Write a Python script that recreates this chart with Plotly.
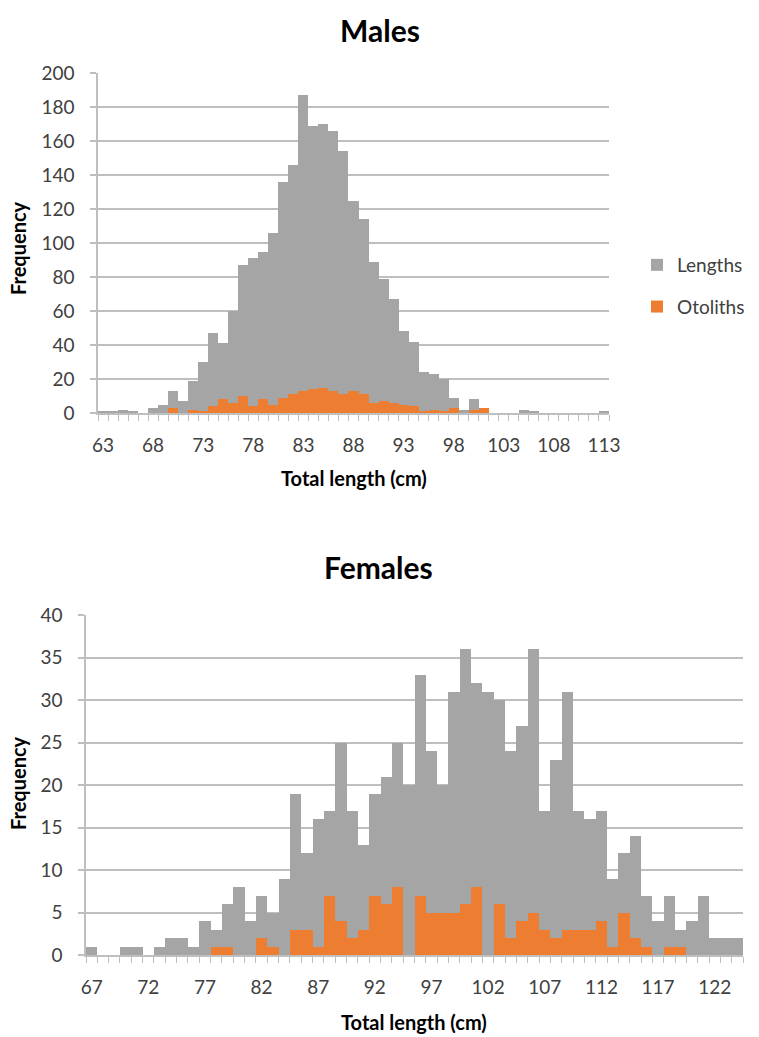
import plotly.graph_objects as go

# ---------------- data ----------------
male_lengths_cm = list(range(63, 114))
male_lengths = [1, 1, 2, 1, 0, 3, 5, 13, 7, 19, 30, 47, 41, 60, 87, 91, 95, 106, 136, 146,
                187, 169, 170, 166, 154, 125, 114, 89, 79, 67, 48, 42, 24, 23, 20, 9, 2, 8, 3, 0,
                0, 0, 2, 1, 0, 0, 0, 0, 0, 0, 1]
male_otoliths = [0, 0, 0, 0, 0, 0, 0, 3, 0, 2, 1, 4, 8, 6, 10, 4, 8, 5, 9, 11,
                 13, 14, 15, 13, 11, 13, 11, 6, 7, 6, 5, 4, 1, 2, 1, 3, 0, 2, 3, 0,
                 0, 0, 0, 0, 0, 0, 0, 0, 0, 0, 0]

female_lengths_cm = list(range(67, 125))
female_lengths = [1, 0, 0, 1, 1, 0, 1, 2, 2, 1, 4, 3, 6, 8, 4, 7, 5, 9, 19, 12,
                  16, 17, 25, 17, 13, 19, 21, 25, 20, 33, 24, 20, 31, 36, 32, 31, 30, 24, 27, 36,
                  17, 23, 31, 17, 16, 17, 9, 12, 14, 7, 4, 7, 3, 4, 7, 2, 2, 2]
female_otoliths = [0, 0, 0, 0, 0, 0, 0, 0, 0, 0, 0, 1, 1, 0, 0, 2, 1, 0, 3, 3,
                   1, 7, 4, 2, 3, 7, 6, 8, 0, 7, 5, 5, 5, 6, 8, 0, 6, 2, 4, 5,
                   3, 2, 3, 3, 3, 4, 1, 5, 2, 1, 0, 1, 1, 0, 0, 0, 0, 0]

male_ticks = list(range(63, 114, 5))
female_ticks = list(range(67, 123, 5))

GRAY = "#A5A5A5"
ORANGE = "#ED7D31"
GRID = "#BFBFBF"
FONT = "Lato"
TICKCOL = "#404040"

W, H = 759, 1037

fig = go.Figure()

fig.add_trace(go.Bar(x=male_lengths_cm, y=male_lengths, name="Lengths", marker_color=GRAY,
                     marker_line_width=0, width=1, xaxis="x", yaxis="y", showlegend=True,
                     legendgroup="a"))
fig.add_trace(go.Bar(x=male_lengths_cm, y=male_otoliths, name="Otoliths", marker_color=ORANGE,
                     marker_line_width=0, width=1, xaxis="x", yaxis="y", showlegend=True,
                     legendgroup="b"))
fig.add_trace(go.Bar(x=female_lengths_cm, y=female_lengths, name="Lengths", marker_color=GRAY,
                     marker_line_width=0, width=1, xaxis="x2", yaxis="y2", showlegend=False,
                     legendgroup="a"))
fig.add_trace(go.Bar(x=female_lengths_cm, y=female_otoliths, name="Otoliths", marker_color=ORANGE,
                     marker_line_width=0, width=1, xaxis="x2", yaxis="y2", showlegend=False,
                     legendgroup="b"))


def px_x(p):
    return p / W


def px_y(p):
    return 1 - p / H


TICKSIZE = 19

common_x = dict(
    showgrid=False, showline=True, linecolor=GRID, linewidth=1.5,
    ticks="", tickfont=dict(family=FONT, size=TICKSIZE, color=TICKCOL),
    ticklabelstandoff=14, automargin=False,
    zeroline=False,
)
common_y = dict(
    showgrid=True, gridcolor=GRID, gridwidth=1.5, showline=True, linecolor=GRID, linewidth=1.5,
    ticks="outside", ticklen=6, tickcolor=GRID, tickwidth=1.5,
    tickfont=dict(family=FONT, size=TICKSIZE, color=TICKCOL),
    ticklabelstandoff=12, automargin=False,
    zeroline=False,
)

title_font = dict(family=FONT, size=30, color="#000000")
axis_title_font = dict(family=FONT, size=20, color="#000000")

fig.update_layout(
    width=W, height=H,
    margin=dict(l=0, r=0, t=0, b=0, pad=0, autoexpand=False),
    paper_bgcolor="white", plot_bgcolor="white",
    barmode="overlay", bargap=0,
    font=dict(family=FONT),
    xaxis=dict(
        **common_x,
        domain=[px_x(98), px_x(609)],
        range=[62.5, 113.5],
        tickmode="array", tickvals=male_ticks, ticktext=[str(v) for v in male_ticks],
        minor=dict(ticks="outside", tick0=62.5, dtick=1, ticklen=6, tickcolor=GRID, tickwidth=1.2, showgrid=False),
        anchor="y",
    ),
    yaxis=dict(
        **common_y,
        domain=[px_y(413), px_y(73)],
        range=[0, 200], dtick=20,
        anchor="x",
    ),
    xaxis2=dict(
        **common_x,
        domain=[px_x(86), px_x(743)],
        range=[66.5, 124.5],
        tickmode="array", tickvals=female_ticks, ticktext=[str(v) for v in female_ticks],
        minor=dict(ticks="outside", tick0=66.5, dtick=1, ticklen=6, tickcolor=GRID, tickwidth=1.2, showgrid=False),
        anchor="y2",
    ),
    yaxis2=dict(
        **common_y,
        domain=[px_y(955), px_y(615)],
        range=[0, 40], dtick=5,
        anchor="x2",
    ),
    legend=dict(
        x=px_x(637), y=px_y(246), xanchor="left", yanchor="top",
        font=dict(family=FONT, size=19, color=TICKCOL),
        tracegroupgap=14, itemwidth=30, bgcolor="rgba(0,0,0,0)",
    ),
    annotations=[
        dict(text="<b>Males</b>", x=px_x(380), y=px_y(30), xref="paper", yref="paper",
             showarrow=False, font=title_font, xanchor="center", yanchor="middle"),
        dict(text="<b>Females</b>", x=px_x(378), y=px_y(567), xref="paper", yref="paper",
             showarrow=False, font=title_font, xanchor="center", yanchor="middle"),
        dict(text="<b>Frequency</b>", x=px_x(18), y=px_y(248), xref="paper", yref="paper",
             showarrow=False, font=axis_title_font, textangle=-90, xanchor="center", yanchor="middle"),
        dict(text="<b>Frequency</b>", x=px_x(18), y=px_y(783), xref="paper", yref="paper",
             showarrow=False, font=axis_title_font, textangle=-90, xanchor="center", yanchor="middle"),
        dict(text="<b>Total length (cm)</b>", x=px_x(354), y=px_y(478), xref="paper", yref="paper",
             showarrow=False, font=axis_title_font, xanchor="center", yanchor="middle"),
        dict(text="<b>Total length (cm)</b>", x=px_x(414), y=px_y(1022), xref="paper", yref="paper",
             showarrow=False, font=axis_title_font, xanchor="center", yanchor="middle"),
    ],
)

post = (
    "document.documentElement.style.margin='0';"
    "document.documentElement.style.overflow='hidden';"
    "document.body.style.margin='0';"
    "document.body.style.overflow='hidden';"
    "var gd=document.getElementById('{plot_id}');"
    "gd.style.position='absolute';gd.style.top='0px';gd.style.left='0px';"
)

fig.write_html("out.html", post_script=post, config={"displayModeBar": False})
